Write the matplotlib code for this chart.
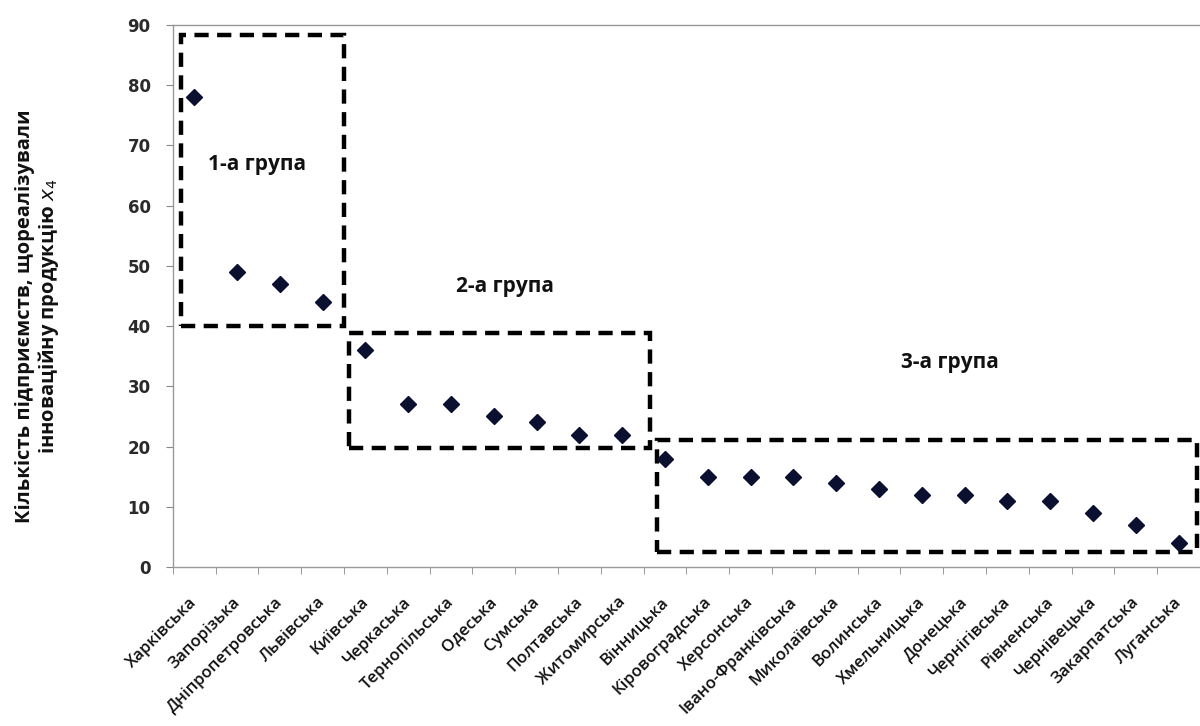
import matplotlib
matplotlib.use("Agg")
import matplotlib.pyplot as plt
from matplotlib.patches import Rectangle
from matplotlib.transforms import ScaledTranslation

regions = ["Харківська", "Запорізька", "Дніпропетровська", "Львівська", "Київська",
           "Черкаська", "Тернопільська", "Одеська", "Сумська", "Полтавська",
           "Житомирська", "Вінницька", "Кіровоградська", "Херсонська",
           "Івано-Франківська", "Миколаївська", "Волинська", "Хмельницька",
           "Донецька", "Чернігівська", "Рівненська", "Чернівецька",
           "Закарпатська", "Луганська"]
values = [78, 49, 47, 44, 36, 27, 27, 25, 24, 22, 22, 18, 15, 15, 15, 14, 13, 12,
          12, 11, 11, 9, 7, 4]
group_labels = ["1-а група", "2-а група", "3-а група"]
y_ticks = [0, 10, 20, 30, 40, 50, 60, 70, 80, 90]
y_title = "Кількість підприємств, щореалізували\nінноваційну продукцію $x_4$"

plt.rcParams['font.family'] = ['Open Sans', 'DejaVu Sans']

fig = plt.figure(figsize=(12, 7.26), dpi=100)
ax = fig.add_axes([0.144, 0.219, 0.856, 0.7466])

x = list(range(len(regions)))
ax.plot(x, values, linestyle='none', marker='D', markersize=8.5,
        color='#0b1030')

ax.set_xlim(-0.5, len(regions) - 0.5)
ax.set_ylim(0, 90)
ax.set_yticks(y_ticks)
ax.set_yticklabels([str(v) for v in y_ticks], fontsize=12, fontweight='bold',
                   family='DejaVu Sans', color='#2a2a2a')

ax.set_xticks(x)
ax.set_xticklabels(regions, rotation=45, ha='right', va='top',
                   rotation_mode='anchor', fontsize=12, fontweight='semibold',
                   color='#111111')
ax.tick_params(axis='x', which='major', length=0, pad=19.5)
off = ScaledTranslation(-0.05, 0, fig.dpi_scale_trans)
for lab in ax.get_xticklabels():
    lab.set_transform(lab.get_transform() + off)
ax.set_xticks([i - 0.5 for i in range(len(regions) + 1)], minor=True)
ax.tick_params(axis='x', which='minor', length=5, color='#888888', direction='out')
ax.tick_params(axis='y', length=5, color='#888888', direction='out', pad=11)

for s in ['left', 'bottom', 'top']:
    ax.spines[s].set_color('#999999')
    ax.spines[s].set_linewidth(1)
ax.spines['right'].set_visible(False)

fig.text(38 / 1200, 1 - 316 / 726, y_title, rotation=90, ha='center',
         va='center', multialignment='center', fontsize=14.5, fontweight='bold',
         linespacing=1.1, color='#111111')

boxes = [(-0.31, 40.0, 3.5, 88.4), (3.61, 19.8, 10.64, 38.9), (10.81, 2.5, 23.43, 21.1)]
for (x0, y0, x1, y1) in boxes:
    ax.add_patch(Rectangle((x0, y0), x1 - x0, y1 - y0, fill=False,
                           edgecolor='black', linewidth=3.2,
                           linestyle=(0, (3.2, 1.9)), clip_on=False))

label_pos = [(1.46, 66.8), (7.26, 46.5), (17.65, 33.9)]
for t, (lx, ly) in zip(group_labels, label_pos):
    ax.text(lx, ly, t, ha='center', va='center', fontsize=15, fontweight='bold',
            color='#111111')

fig.savefig("out.png", dpi=100)
